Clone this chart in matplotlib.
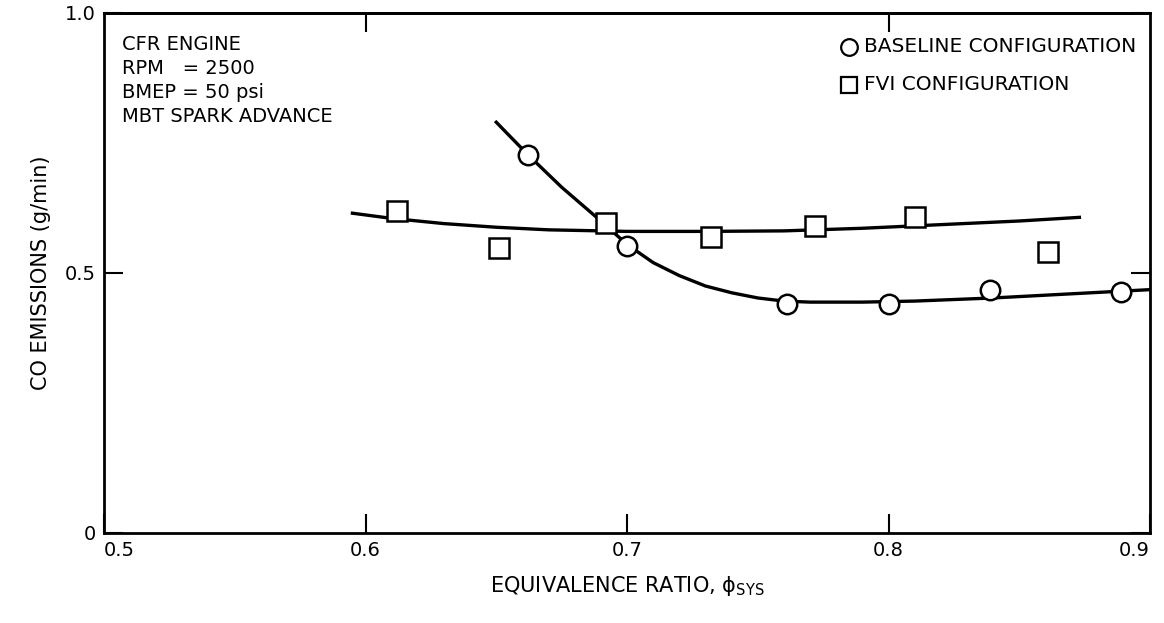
import matplotlib
matplotlib.use("Agg")
import matplotlib.pyplot as plt

# Measured data points
base_x = [0.662, 0.700, 0.761, 0.800, 0.839, 0.889]
base_y = [0.727, 0.552, 0.441, 0.441, 0.467, 0.464]
fvi_x = [0.612, 0.651, 0.692, 0.732, 0.772, 0.810, 0.861]
fvi_y = [0.620, 0.548, 0.596, 0.569, 0.591, 0.608, 0.540]

# Faired curves
base_curve_x = [0.650, 0.662, 0.675, 0.690, 0.700, 0.710, 0.720, 0.730, 0.740,
                0.750, 0.760, 0.770, 0.790, 0.810, 0.840, 0.870, 0.900]
base_curve_y = [0.790, 0.728, 0.665, 0.600, 0.555, 0.520, 0.495, 0.475, 0.462,
                0.452, 0.446, 0.444, 0.444, 0.446, 0.452, 0.460, 0.468]
fvi_curve_x = [0.595, 0.610, 0.630, 0.650, 0.670, 0.700, 0.730, 0.760, 0.790,
               0.820, 0.850, 0.873]
fvi_curve_y = [0.615, 0.605, 0.595, 0.588, 0.583, 0.580, 0.580, 0.581, 0.586,
               0.593, 0.600, 0.607]

x_ticks = [0.5, 0.6, 0.7, 0.8, 0.9]
x_labels = ["0.5", "0.6", "0.7", "0.8", "0.9"]
top_ticks = [0.6, 0.8]
y_ticks = [0, 0.5, 1.0]
y_labels = ["0", "0.5", "1.0"]

fig = plt.figure(figsize=(11.64, 6.23), dpi=100)
ax = fig.add_axes([104/1164, 90/623, (1150-104)/1164, (533-13)/623])

ax.plot(base_curve_x, base_curve_y, color="black", lw=2.4, zorder=2)
ax.plot(fvi_curve_x, fvi_curve_y, color="black", lw=2.4, zorder=2)
ax.plot(base_x, base_y, linestyle="none", marker="o", ms=14, mfc="white",
        mec="black", mew=1.8, zorder=3)
ax.plot(fvi_x, fvi_y, linestyle="none", marker="s", ms=14, mfc="white",
        mec="black", mew=1.8, zorder=3)

ax.set_xlim(0.5, 0.9)
ax.set_ylim(0, 1.0)
ax.set_xticks(x_ticks)
ax.set_xticklabels(x_labels, fontsize=14)
ax.set_yticks(y_ticks)
ax.set_yticklabels(y_labels, fontsize=14)
ax.tick_params(axis="both", direction="in", length=14, width=1.5,
               top=False, right=True, pad=6)
xl = ax.get_xticklabels()
xl[0].set_horizontalalignment("left")
xl[-1].set_horizontalalignment("right")

secx = ax.secondary_xaxis("top")
secx.set_xticks(top_ticks)
secx.set_xticklabels([])
secx.tick_params(direction="in", length=14, width=1.5)
secx.spines["top"].set_linewidth(2)

for sp in ax.spines.values():
    sp.set_linewidth(2)

ax.set_xlabel("EQUIVALENCE RATIO, $\\mathrm{\u03d5}_{\\mathrm{SYS}}$",
              fontsize=15, labelpad=10)
ax.set_ylabel("CO EMISSIONS (g/min)", fontsize=15, labelpad=10)

ax.text(0.017, 0.957, "CFR ENGINE\nRPM   = 2500\nBMEP = 50 psi\nMBT SPARK ADVANCE",
        transform=ax.transAxes, fontsize=14, va="top", ha="left",
        linespacing=1.32)

ax.plot([0.7125], [0.935], marker="o", ms=12, mfc="white", mec="black",
        mew=1.6, transform=ax.transAxes, clip_on=False)
ax.text(0.727, 0.935, "BASELINE CONFIGURATION", transform=ax.transAxes,
        fontsize=14.5, va="center", ha="left")
ax.plot([0.7125], [0.862], marker="s", ms=12, mfc="white", mec="black",
        mew=1.6, transform=ax.transAxes, clip_on=False)
ax.text(0.727, 0.862, "FVI CONFIGURATION", transform=ax.transAxes,
        fontsize=14.5, va="center", ha="left")

fig.savefig("out.png", dpi=100)
